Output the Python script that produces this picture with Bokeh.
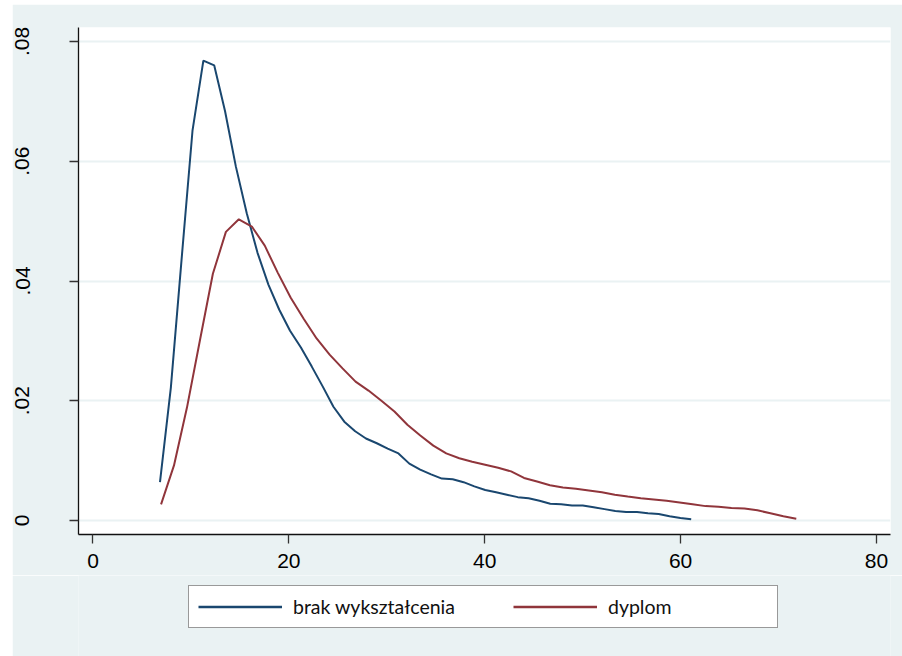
from bokeh.plotting import figure
from bokeh.models import Legend, LegendItem, FixedTicker, Range1d, Spacer
from bokeh.layouts import row, column
from bokeh.embed import file_html
from bokeh.resources import INLINE

# ---- data ----
x_brak = [6.84, 7.95, 9.05, 10.16, 11.27, 12.38, 13.48, 14.59, 15.70, 16.80,
          17.91, 19.02, 20.12, 21.23, 22.34, 23.45, 24.55, 25.66, 26.77, 27.87,
          28.98, 30.09, 31.19, 32.30, 33.41, 34.52, 35.62, 36.73, 37.84, 38.94,
          40.05, 41.16, 42.26, 43.37, 44.48, 45.59, 46.69, 47.80, 48.91, 50.01,
          51.12, 52.23, 53.33, 54.44, 55.55, 56.66, 57.76, 58.87, 59.98, 61.08]
y_brak = [.0064, .0222, .0437, .0651, .0768, .0760, .0684, .0591, .0513, .0447,
          .0394, .0352, .0317, .0289, .0257, .0224, .0190, .0165, .0149, .0137,
          .0129, .0120, .0112, .0095, .0085, .0077, .0070, .0069, .0064, .0057,
          .0051, .0047, .0043, .0039, .0037, .0033, .0028, .0027, .0025, .0025,
          .0022, .0019, .0016, .0014, .0014, .0012, .0011, .0007, .0004, .0002]

x_dyplom = [6.95, 8.27, 9.60, 10.92, 12.24, 13.57, 14.89, 16.22, 17.54, 18.86,
            20.19, 21.51, 22.83, 24.16, 25.48, 26.81, 28.13, 29.45, 30.78, 32.10,
            33.42, 34.75, 36.07, 37.40, 38.72, 40.04, 41.37, 42.69, 44.01, 45.34,
            46.66, 47.98, 49.31, 50.63, 51.96, 53.28, 54.60, 55.93, 57.25, 58.57,
            59.90, 61.22, 62.55, 63.87, 65.19, 66.52, 67.84, 69.17, 70.49, 71.81]
y_dyplom = [.0027, .0092, .0189, .0301, .0412, .0482, .0503, .0491, .0459, .0414,
            .0372, .0337, .0304, .0277, .0254, .0232, .0217, .0200, .0182, .0160,
            .0142, .0125, .0112, .0104, .0098, .0093, .0088, .0082, .0071, .0065,
            .0059, .0055, .0053, .0050, .0047, .0043, .0040, .0037, .0035, .0033,
            .0030, .0027, .0024, .0023, .0021, .0020, .0017, .0012, .0007, .0003]

x_ticks = [0, 20, 40, 60, 80]
y_ticks = [0, 0.02, 0.04, 0.06, 0.08]
y_tick_labels = ["0", ".02", ".04", ".06", ".08"]
series_labels = ["brak wykształcenia", "dyplom"]
series_colors = ["#1A476F", "#90353B"]

BG = "#EAF2F3"
TICK_FONT = "Liberation Sans"
W = 890

# ---- main plot ----
p = figure(width=W, height=571, output_backend="svg", toolbar_location=None,
           x_range=Range1d(-1.48, 81.43), y_range=Range1d(-0.00234, 0.08234),
           min_border_left=66, min_border_right=12, min_border_top=23,
           min_border_bottom=41,
           background_fill_color="white", border_fill_color=BG)
p.outline_line_color = None

p.line(x_brak, y_brak, line_color=series_colors[0], line_width=2)
p.line(x_dyplom, y_dyplom, line_color=series_colors[1], line_width=2)

p.xgrid.visible = False
p.ygrid.grid_line_color = BG
p.ygrid.grid_line_width = 2
p.ygrid.ticker = FixedTicker(ticks=y_ticks)

for ax in (p.xaxis[0], p.yaxis[0]):
    ax.axis_line_color = "#111111"
    ax.axis_line_width = 1.3
    ax.major_tick_line_color = "#333333"
    ax.major_tick_line_width = 1.3
    ax.major_tick_in = 0
    ax.major_tick_out = 9
    ax.minor_tick_line_color = None
    ax.major_label_text_font = TICK_FONT
    ax.major_label_text_font_size = "21px"
    ax.major_label_text_color = "#000000"

p.xaxis.ticker = FixedTicker(ticks=x_ticks)
p.xaxis.major_label_standoff = 10
p.yaxis.ticker = FixedTicker(ticks=y_ticks)
p.yaxis.major_label_overrides = {t: l for t, l in zip(y_ticks, y_tick_labels)}
p.yaxis.major_label_orientation = "vertical"
p.yaxis.major_label_standoff = 40

# ---- legend strip (series drawn out of view, used only for legend glyphs) ----
lf = figure(width=W, height=81, output_backend="svg", toolbar_location=None,
            x_axis_location=None, y_axis_location=None,
            x_range=Range1d(1000, 1001), y_range=Range1d(1000, 1001),
            min_border=0, min_border_left=0, min_border_right=0,
            min_border_top=0, min_border_bottom=0,
            background_fill_color=BG, border_fill_color=BG)
lf.outline_line_color = None
lf.xgrid.visible = False
lf.ygrid.visible = False
lr1 = lf.line(x_brak, y_brak, line_color=series_colors[0], line_width=2.5)
lr2 = lf.line(x_dyplom, y_dyplom, line_color=series_colors[1], line_width=2.5)

legend = Legend(items=[LegendItem(label=series_labels[0], renderers=[lr1]),
                       LegendItem(label=series_labels[1], renderers=[lr2])],
                orientation="horizontal", location=(110, 28),
                padding=9, spacing=58, glyph_width=84, glyph_height=19,
                label_height=19, label_width=160, label_standoff=11,
                margin=0,
                label_text_font="Lato", label_text_font_size="19.5px",
                label_text_color="#111111",
                border_line_color="#333333", border_line_width=1,
                background_fill_color="white", background_fill_alpha=1)
lf.add_layout(legend)

layout = row(Spacer(width=12, height=652),
             column(Spacer(width=W, height=4), p, lf))

open("out.html", "w").write(file_html(layout, INLINE))
